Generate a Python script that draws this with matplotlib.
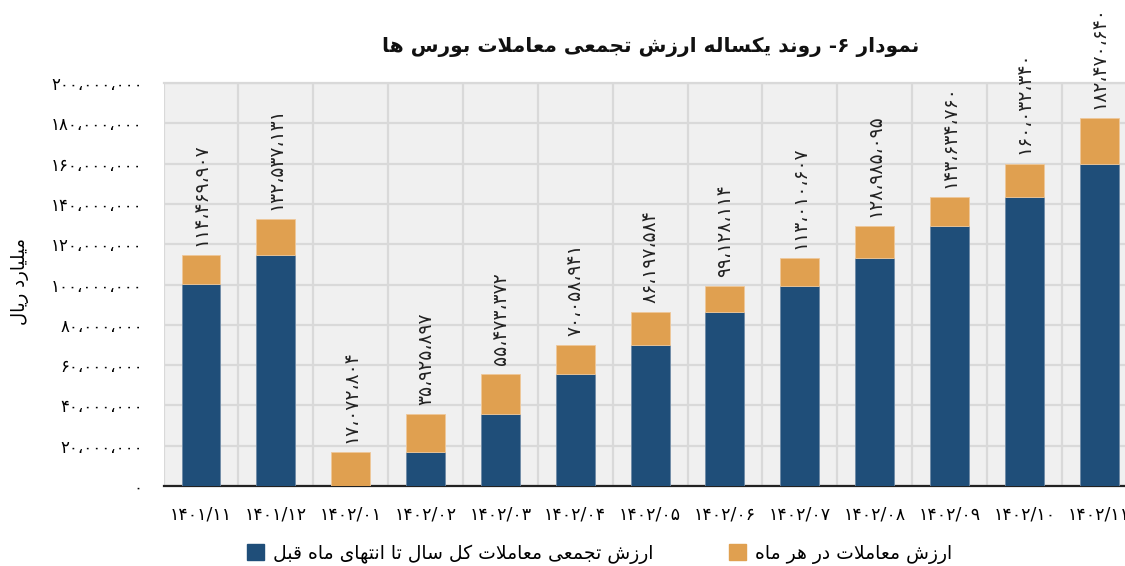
import re
import numpy as np
import matplotlib
matplotlib.use("Agg")
import matplotlib.pyplot as plt
from matplotlib.patches import Patch

plt.rcParams["font.family"] = ["DejaVu Sans"]
plt.rcParams["axes.unicode_minus"] = False

# ── data ──────────────────────────────────────────────────────
months = ["1401/11", "1401/12", "1402/01", "1402/02", "1402/03", "1402/04", "1402/05",
          "1402/06", "1402/07", "1402/08", "1402/09", "1402/10", "1402/11"]
totals = [114469907, 132537131, 17072804, 35925897, 55473372, 70058941, 86197584,
          99128114, 113010607, 128985095, 143634760, 160032340, 182470640]
prev_cum = [100500000, 114469907, 0, 17072804, 35925897, 55473372, 70058941,
            86197584, 99128114, 113010607, 128985095, 143634760, 160032340]
monthly = [t - p for t, p in zip(totals, prev_cum)]

title_txt = "نمودار ۶- روند یکساله ارزش تجمعی معاملات بورس ها"
ylabel_txt = "میلیارد ریال"
leg_cum = "ارزش تجمعی معاملات کل سال تا انتهای ماه قبل"
leg_month = "ارزش معاملات در هر ماه"

C_BLUE = "#1f4e79"
C_ORANGE = "#e0a050"

# ── simple persian shaping (presentation forms + visual order) ──
# (isolated, final, initial, medial)
FORMS = {
    "ا": ("\uFE8D", "\uFE8E", None, None), "آ": ("\uFE81", "\uFE82", None, None),
    "ب": ("\uFE8F", "\uFE90", "\uFE91", "\uFE92"), "پ": ("\uFB56", "\uFB57", "\uFB58", "\uFB59"),
    "ت": ("\uFE95", "\uFE96", "\uFE97", "\uFE98"), "ث": ("\uFE99", "\uFE9A", "\uFE9B", "\uFE9C"),
    "ج": ("\uFE9D", "\uFE9E", "\uFE9F", "\uFEA0"), "چ": ("\uFB7A", "\uFB7B", "\uFB7C", "\uFB7D"),
    "ح": ("\uFEA1", "\uFEA2", "\uFEA3", "\uFEA4"), "خ": ("\uFEA5", "\uFEA6", "\uFEA7", "\uFEA8"),
    "د": ("\uFEA9", "\uFEAA", None, None), "ذ": ("\uFEAB", "\uFEAC", None, None),
    "ر": ("\uFEAD", "\uFEAE", None, None), "ز": ("\uFEAF", "\uFEB0", None, None),
    "ژ": ("\uFB8A", "\uFB8B", None, None),
    "س": ("\uFEB1", "\uFEB2", "\uFEB3", "\uFEB4"), "ش": ("\uFEB5", "\uFEB6", "\uFEB7", "\uFEB8"),
    "ص": ("\uFEB9", "\uFEBA", "\uFEBB", "\uFEBC"), "ض": ("\uFEBD", "\uFEBE", "\uFEBF", "\uFEC0"),
    "ط": ("\uFEC1", "\uFEC2", "\uFEC3", "\uFEC4"), "ظ": ("\uFEC5", "\uFEC6", "\uFEC7", "\uFEC8"),
    "ع": ("\uFEC9", "\uFECA", "\uFECB", "\uFECC"), "غ": ("\uFECD", "\uFECE", "\uFECF", "\uFED0"),
    "ف": ("\uFED1", "\uFED2", "\uFED3", "\uFED4"), "ق": ("\uFED5", "\uFED6", "\uFED7", "\uFED8"),
    "ک": ("\uFB8E", "\uFB8F", "\uFB90", "\uFB91"), "گ": ("\uFB92", "\uFB93", "\uFB94", "\uFB95"),
    "ل": ("\uFEDD", "\uFEDE", "\uFEDF", "\uFEE0"), "م": ("\uFEE1", "\uFEE2", "\uFEE3", "\uFEE4"),
    "ن": ("\uFEE5", "\uFEE6", "\uFEE7", "\uFEE8"), "و": ("\uFEED", "\uFEEE", None, None),
    "ه": ("\uFEE9", "\uFEEA", "\uFEEB", "\uFEEC"), "ی": ("\uFBFC", "\uFBFD", "\uFBFE", "\uFBFF"),
    "لا": ("\uFEFB", "\uFEFC", None, None),
}


def fa(text):
    toks = []
    i = 0
    while i < len(text):
        if text[i:i + 2] == "لا":
            toks.append("لا")
            i += 2
        else:
            toks.append(text[i])
            i += 1
    out = []
    for k, t in enumerate(toks):
        if t not in FORMS:
            out.append(t)
            continue
        prev = toks[k - 1] if k > 0 else None
        nxt = toks[k + 1] if k + 1 < len(toks) else None
        j_prev = prev in FORMS and FORMS[prev][2] is not None
        j_next = FORMS[t][2] is not None and nxt in FORMS
        iso, fin, ini, med = FORMS[t]
        if j_prev and j_next:
            out.append(med)
        elif j_prev:
            out.append(fin)
        elif j_next:
            out.append(ini)
        else:
            out.append(iso)
    vis = "".join(out)[::-1]
    # digit runs keep left-to-right order
    return re.sub(r"[۰-۹]+", lambda m: m.group(0)[::-1], vis)


DIG = str.maketrans("0123456789,", "۰۱۲۳۴۵۶۷۸۹،")


def fa_num(v):
    return f"{v:,}".translate(DIG)


# ── plot ──────────────────────────────────────────────────────
fig = plt.figure(figsize=(11.25, 5.66), dpi=100)
ax = fig.add_axes([0.1454, 0.1413, 0.8649, 0.712])
ax.set_facecolor("#f0f0f0")

x = np.arange(len(months))
ax.bar(x, prev_cum, width=0.52, color=C_BLUE, edgecolor="#6f8aa6", linewidth=0.6,
       zorder=3, label=fa(leg_cum))
ax.bar(x, monthly, width=0.52, bottom=prev_cum, color=C_ORANGE, edgecolor="#efc89a",
       linewidth=0.6, zorder=3, label=fa(leg_month))

for xi, t in zip(x, totals):
    ax.text(xi, t + 4.5e6, fa_num(t), rotation=90, ha="center", va="bottom",
            fontsize=13.5, color="#222222", zorder=4)

ax.set_xlim(-0.5, len(months) - 0.5)
ax.set_ylim(0, 200e6)
ax.set_yticks(np.arange(0, 200e6 + 1, 20e6))
ax.set_yticklabels([fa_num(int(v)) for v in np.arange(0, 200e6 + 1, 20e6)], fontsize=12)
ax.set_xticks(x)
ax.set_xticklabels([m.translate(DIG) for m in months], fontsize=12.5)
ax.set_xticks(x + 0.5, minor=True)
ax.tick_params(axis="both", which="both", length=0)
ax.tick_params(axis="y", pad=15)
ax.tick_params(axis="x", pad=14)

ax.grid(axis="y", color="#d9d9d9", linewidth=1.6, zorder=0)
ax.grid(axis="x", which="minor", color="#d9d9d9", linewidth=1.6, zorder=0)
ax.grid(axis="x", which="major", visible=False)
for s in ["top", "right", "left"]:
    ax.spines[s].set_visible(False)
ax.spines["bottom"].set_color("#222222")
ax.spines["bottom"].set_linewidth(1.6)
ax.axvline(-0.5, color="#d9d9d9", linewidth=1.6, zorder=0)
ax.axhline(200e6, color="#d9d9d9", linewidth=1.6, zorder=0, clip_on=False)

fig.text(0.018, 0.503, fa(ylabel_txt), rotation=90, ha="center", va="center", fontsize=13)
fig.text(0.578, 0.918, fa(title_txt), ha="center", va="center", fontsize=14.5,
         fontweight="bold", color="#111111")

handles = [Patch(color=C_BLUE), Patch(color=C_ORANGE)]
fig.legend(handles, [fa(leg_cum), fa(leg_month)], ncol=2, frameon=False,
           loc="center", bbox_to_anchor=(0.533, 0.022), fontsize=13.5,
           handlelength=0.9, handleheight=0.9, handletextpad=0.5, columnspacing=4.0)

fig.savefig("out.png", dpi=100)
